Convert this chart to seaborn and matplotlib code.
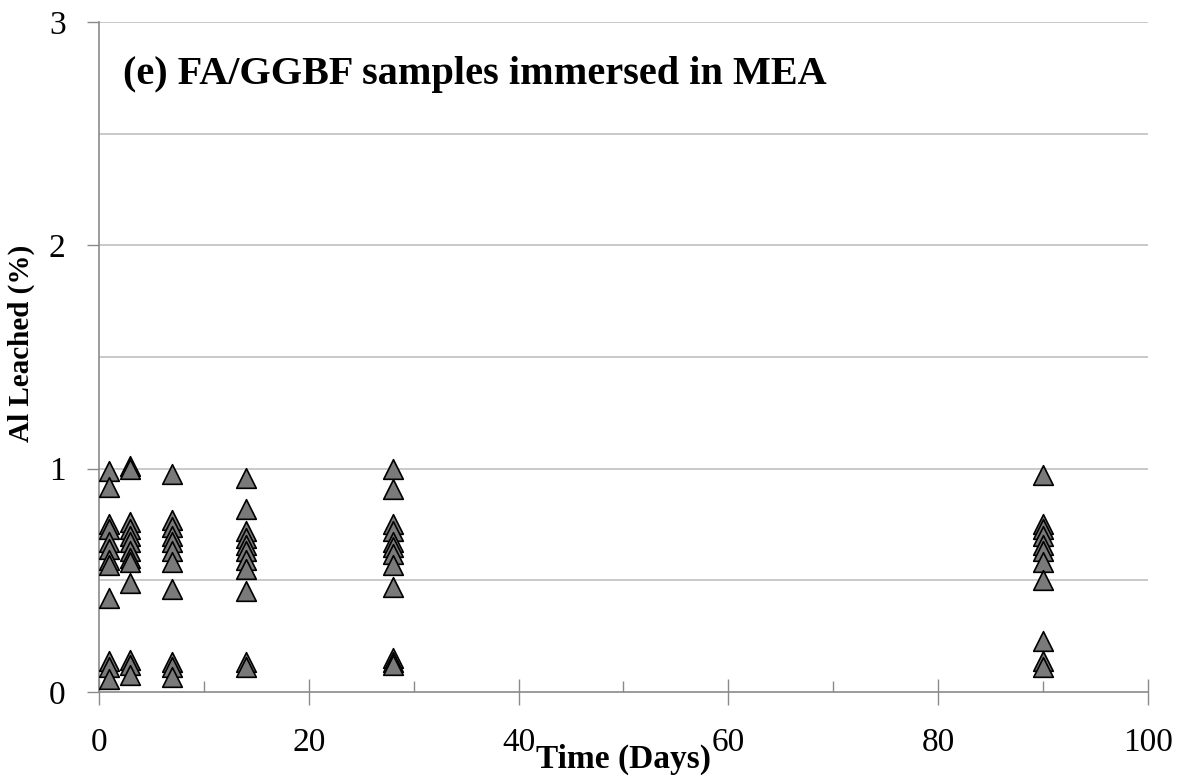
import matplotlib
matplotlib.use("Agg")
import matplotlib.pyplot as plt
from matplotlib.ticker import MultipleLocator
import seaborn as sns
import pandas as pd

# Aluminium leached (%) per sampling day, FA/GGBF samples in MEA
day_1 = [0.99, 0.92, 0.75, 0.73, 0.67, 0.64, 0.59, 0.57, 0.42, 0.14, 0.11, 0.06]
day_3 = [1.01, 1.00, 0.76, 0.73, 0.70, 0.67, 0.63, 0.60, 0.58, 0.49, 0.145, 0.12, 0.075]
day_7 = [0.975, 0.77, 0.74, 0.70, 0.67, 0.63, 0.58, 0.46, 0.135, 0.11, 0.065]
day_14 = [0.96, 0.82, 0.72, 0.69, 0.66, 0.63, 0.59, 0.55, 0.45, 0.135, 0.11]
day_28 = [1.00, 0.91, 0.75, 0.72, 0.67, 0.65, 0.62, 0.57, 0.47, 0.15, 0.135, 0.12]
day_90 = [0.97, 0.75, 0.73, 0.70, 0.66, 0.63, 0.58, 0.50, 0.23, 0.14, 0.11]

days = [1, 3, 7, 14, 28, 90]
series = [day_1, day_3, day_7, day_14, day_28, day_90]

title = "(e) FA/GGBF samples immersed in MEA"
x_label = "Time (Days)"
y_label = "Al Leached (%)"

rows = [(d, v) for d, vals in zip(days, series) for v in vals]
df = pd.DataFrame(rows, columns=["time", "leached"])

sns.set_theme(style="white")
plt.rcParams["font.family"] = ["Liberation Serif", "DejaVu Serif"]
plt.rcParams["text.color"] = "black"
plt.rcParams["axes.labelcolor"] = "black"
plt.rcParams["xtick.labelcolor"] = "black"
plt.rcParams["ytick.labelcolor"] = "black"

fig = plt.figure(figsize=(11.85, 7.82), dpi=100)
ax = fig.add_axes([0.0835, 0.1151, 0.8853, 0.8568])

sns.scatterplot(data=df, x="time", y="leached", marker="^", s=200,
                color="#7a7a7a", edgecolor="black", linewidth=1.2,
                ax=ax, zorder=3, legend=False)

ax.set_xlim(0, 100)
ax.set_ylim(0, 3)
ax.xaxis.set_major_locator(MultipleLocator(20))
ax.xaxis.set_minor_locator(MultipleLocator(10))
ax.yaxis.set_major_locator(MultipleLocator(1))
ax.yaxis.set_minor_locator(MultipleLocator(0.5))

ax.grid(False)
for yv in [0.5, 1.0, 1.5, 2.0, 2.5, 3.0]:
    ax.axhline(yv, color="#c0c0c0", linewidth=1.2, zorder=1)

for side in ["top", "right"]:
    ax.spines[side].set_visible(False)
for side in ["left", "bottom"]:
    ax.spines[side].set_color("#8a8a8a")
    ax.spines[side].set_linewidth(1.2)

ax.tick_params(axis="x", which="major", direction="inout", length=19,
               width=1.0, color="#8a8a8a", labelsize=24, pad=16, bottom=True,
               labelcolor="black")
ax.tick_params(axis="x", which="minor", direction="in", length=8,
               width=1.0, color="#8a8a8a", bottom=True)
ax.tick_params(axis="y", which="major", direction="out", length=9,
               width=1.0, color="#8a8a8a", labelsize=24, pad=15, left=True,
               labelcolor="black")
ax.tick_params(axis="y", which="minor", left=False)

ax.set_xlabel(x_label, fontsize=24, fontweight="bold", color="black")
ax.xaxis.set_label_coords(0.5, -0.078)
ax.set_ylabel(y_label, fontsize=21, fontweight="bold", color="black")
ax.yaxis.set_label_coords(-0.061, 0.52)

ax.text(0.023, 0.922, title, transform=ax.transAxes, fontsize=29,
        fontweight="bold", ha="left", va="center", color="black")

fig.savefig("out.png", dpi=100)
